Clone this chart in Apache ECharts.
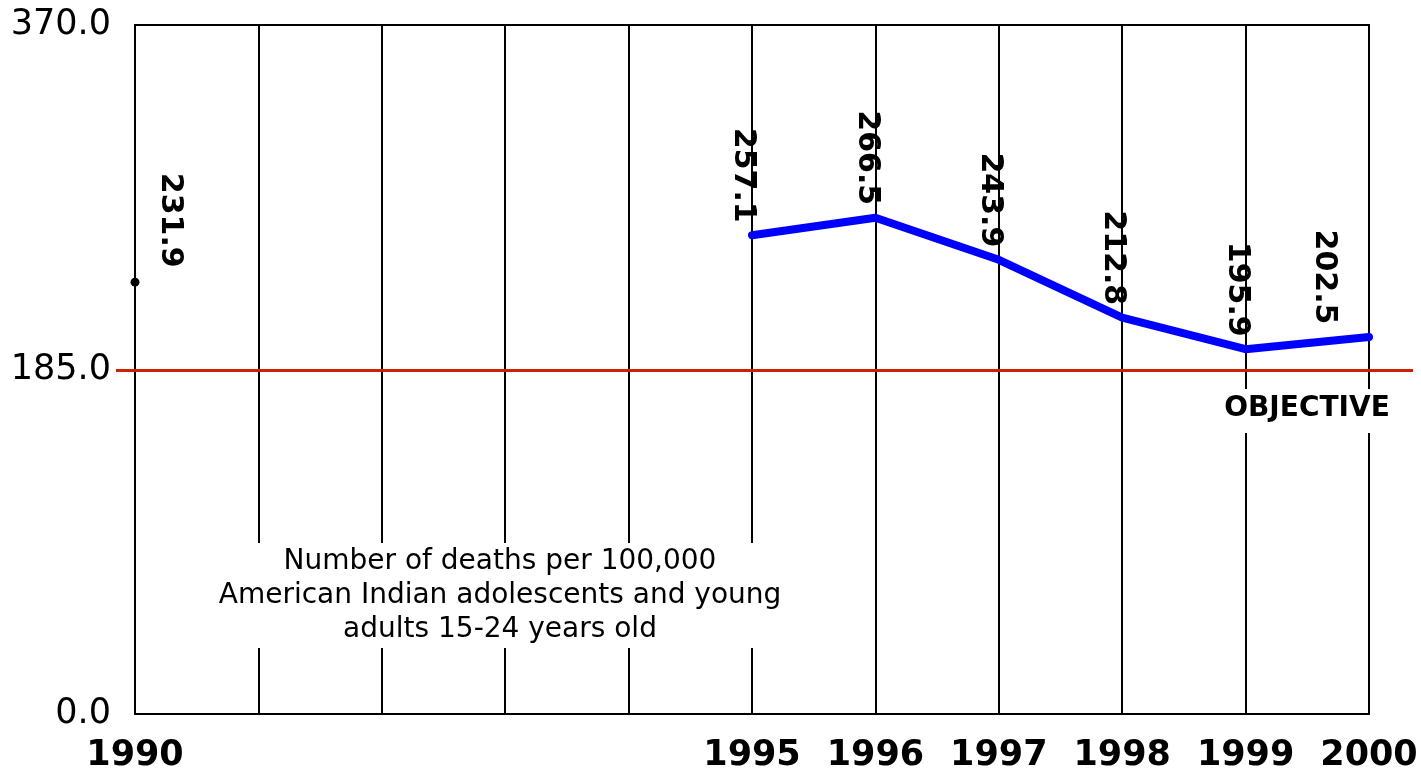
<!DOCTYPE html>
<html>
<head>
<meta charset="utf-8">
<script src="https://cdn.jsdelivr.net/npm/echarts@6/dist/echarts.min.js"></script>
<style>
html,body{margin:0;padding:0;background:#fff;}
#main{width:1421px;height:773px;}
</style>
</head>
<body>
<div id="main"></div>
<script>
// ---- data ----
const years = [1995, 1996, 1997, 1998, 1999, 2000];
const deaths = [257.1, 266.5, 243.9, 212.8, 195.9, 202.5];
const baselineYear = 1990;
const baselineValue = 231.9;
const objectiveValue = 185.0;
const xLabeledYears = [1990, 1995, 1996, 1997, 1998, 1999, 2000];
const yTicks = [0, 185, 370];
const noteText = 'Number of deaths per 100,000\nAmerican Indian adolescents and young\nadults 15-24 years old';
const objectiveText = 'OBJECTIVE';

const FONT = 'DejaVu Sans';
const chart = echarts.init(document.getElementById('main'));

// labels are rotated -90deg: offset[0] moves along screen y, offset[1] moves along -screen x
const labelBase = {
  show: true,
  position: 'top',
  distance: 12,
  rotate: -90,
  align: 'right',
  verticalAlign: 'middle',
  offset: [0, 9],
  fontFamily: FONT,
  fontWeight: 'bold',
  fontSize: 30,
  color: '#000',
  formatter: p => p.value[1].toFixed(1)
};

const lineData = years.map((y, i) => {
  const item = { value: [y, deaths[i]] };
  if (i === years.length - 1) item.label = { offset: [0, 45] };
  return item;
});

chart.setOption({
  animation: false,
  backgroundColor: '#fff',
  grid: [
    { left: 135, right: 52, top: 25, bottom: 57, show: true, borderColor: '#000', borderWidth: 2, backgroundColor: 'transparent' },
    { left: 116, right: 8, top: 25, bottom: 57, show: false }
  ],
  xAxis: [
    {
      type: 'value', gridIndex: 0, min: 1990, max: 2000, interval: 1,
      axisLine: { show: true, lineStyle: { color: '#000', width: 2 } },
      axisTick: { show: false },
      splitLine: { show: true, lineStyle: { color: '#000', width: 2 } },
      axisLabel: {
        margin: 24,
        fontFamily: FONT, fontWeight: 'bold', fontSize: 35, color: '#000',
        formatter: v => xLabeledYears.includes(v) ? String(v) : ''
      }
    },
    { type: 'value', gridIndex: 1, min: 0, max: 1, show: false }
  ],
  yAxis: [
    {
      type: 'value', gridIndex: 0, min: 0, max: 370, interval: 185,
      axisLine: { show: true, lineStyle: { color: '#000', width: 2 } },
      axisTick: { show: false },
      splitLine: { show: false },
      axisLabel: {
        margin: 24,
        fontFamily: FONT, fontSize: 35, color: '#000',
        formatter: v => yTicks.includes(v) ? v.toFixed(1) : ''
      }
    },
    { type: 'value', gridIndex: 1, min: 0, max: 370, show: false }
  ],
  title: [
    {
      text: noteText,
      left: 490, top: 543, textAlign: 'center',
      backgroundColor: '#fff',
      padding: [2, 10, 1, 10],
      textStyle: { fontFamily: FONT, fontWeight: 'normal', fontSize: 28, lineHeight: 34, color: '#000', align: 'center' }
    },
    {
      text: objectiveText,
      left: 1301, top: 389, textAlign: 'center',
      backgroundColor: '#fff',
      padding: [4, 6, 8, 6],
      textStyle: { fontFamily: FONT, fontWeight: 'bold', fontSize: 28, lineHeight: 32, color: '#000' }
    }
  ],
  series: [
    {
      name: 'objective', type: 'line', xAxisIndex: 1, yAxisIndex: 1,
      data: [[0, objectiveValue], [1, objectiveValue]],
      symbol: 'none', silent: true, z: 3,
      lineStyle: { color: '#cc2200', width: 3 }
    },
    {
      name: 'deaths', type: 'line', xAxisIndex: 0, yAxisIndex: 0,
      data: lineData,
      symbol: 'circle', symbolSize: 1, z: 5,
      itemStyle: { color: '#0000ff' },
      lineStyle: { color: '#0000ff', width: 8, cap: 'round', join: 'round' },
      label: labelBase
    },
    {
      name: 'baseline', type: 'line', xAxisIndex: 0, yAxisIndex: 0,
      data: [{ value: [baselineYear, baselineValue] }],
      symbol: 'circle', symbolSize: 9, z: 6, clip: false,
      itemStyle: { color: '#000' },
      label: Object.assign({}, labelBase, { distance: 10, offset: [0, -35] })
    }
  ]
});
</script>
</body>
</html>
